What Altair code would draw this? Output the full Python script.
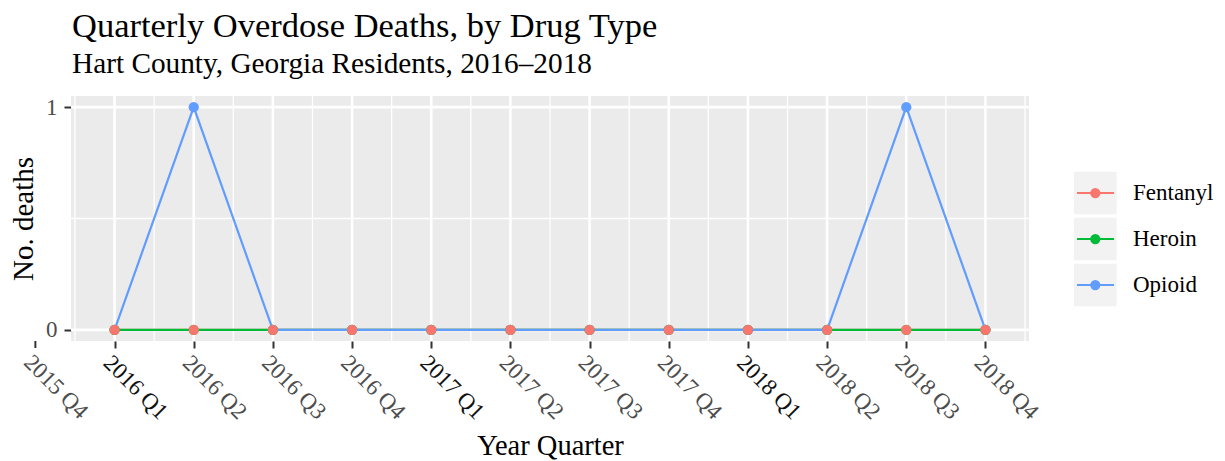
import json
import altair as alt
import pandas as pd

# ---- data ----
drugs = ["Fentanyl", "Heroin", "Opioid"]
colors = ["#F8766D", "#00BA38", "#619CFF"]
quarter_index = [1, 2, 3, 4, 5, 6, 7, 8, 9, 10, 11, 12]   # 2016 Q1 .. 2018 Q4
fentanyl = [0, 0, 0, 0, 0, 0, 0, 0, 0, 0, 0, 0]
heroin = [0, 0, 0, 0, 0, 0, 0, 0, 0, 0, 0, 0]
opioid = [0, 1, 0, 0, 0, 0, 0, 0, 0, 0, 1, 0]
tick_values = [0, 1, 2, 3, 4, 5, 6, 7, 8, 9, 10, 11, 12]
tick_labels = ["2015 Q4", "2016 Q1", "2016 Q2", "2016 Q3", "2016 Q4",
               "2017 Q1", "2017 Q2", "2017 Q3", "2017 Q4",
               "2018 Q1", "2018 Q2", "2018 Q3", "2018 Q4"]
y_ticks = [0, 1]
y_minor = [0.5]

rows = []
for d, vals in zip(drugs, [fentanyl, heroin, opioid]):
    for q, v in zip(quarter_index, vals):
        rows.append({"drug": d, "q": q, "deaths": v})
df = pd.DataFrame(rows)

major_x = pd.DataFrame({"v": quarter_index})
minor_x = pd.DataFrame({"v": [t + 0.5 for t in tick_values]})
major_y = pd.DataFrame({"v": y_ticks})
minor_y = pd.DataFrame({"v": y_minor})
first_tick = pd.DataFrame({"v": [tick_values[0]], "label": [tick_labels[0]]})
legend_df = pd.DataFrame({"drug": drugs, "k": list(range(len(drugs)))})

FONT = "Liberation Serif"
W, H = 958, 245
TICK_FS = 23
LABEL_GREY = "#4D4D4D"

xscale = alt.Scale(domain=[0.45, 12.55], nice=False, zero=False)
yscale = alt.Scale(domain=[-0.05, 1.05], nice=False, zero=False)
cscale = alt.Scale(domain=drugs, range=colors)

x_axis = alt.Axis(
    values=tick_values,
    labelExpr=json.dumps(tick_labels) + "[datum.value]",
    labelAngle=45, labelAlign="left", labelBaseline="top",
    labelFont=FONT, labelFontSize=TICK_FS,
    labelColor={"condition": {"test": "datum.value % 4 == 1", "value": "#111111"},
                "value": LABEL_GREY},
    labelOverlap=False, labelFlush=False, labelBound=False, labelPadding=3,
    tickColor="#333333", tickWidth=2, tickSize=7,
    domain=False, grid=False,
    title="Year Quarter", titleFont=FONT, titleFontSize=28.5,
    titleFontWeight="normal", titleColor="black", titlePadding=8,
)
y_axis = alt.Axis(
    values=y_ticks, format="d",
    labelFont=FONT, labelFontSize=TICK_FS, labelColor=LABEL_GREY, labelPadding=7,
    tickColor="#333333", tickWidth=2, tickSize=7,
    domain=False, grid=False,
    title="No. deaths", titleFont=FONT, titleFontSize=29,
    titleFontWeight="normal", titleColor="black", titlePadding=7,
)


def X(field):
    return alt.X(field, type="quantitative", scale=xscale, axis=x_axis)


def Y(field):
    return alt.Y(field, type="quantitative", scale=yscale, axis=y_axis)


grid_minor_x = alt.Chart(minor_x).mark_rule(color="white", strokeWidth=1.3, clip=True).encode(x=X("v"))
grid_minor_y = alt.Chart(minor_y).mark_rule(color="white", strokeWidth=1.3, clip=True).encode(y=Y("v"))
grid_major_x = alt.Chart(major_x).mark_rule(color="white", strokeWidth=2.6, clip=True).encode(x=X("v"))
grid_major_y = alt.Chart(major_y).mark_rule(color="white", strokeWidth=2.6, clip=True).encode(y=Y("v"))

# the first break (2015 Q4) lies left of the panel: ggplot still draws it
first_tick_mark = alt.Chart(first_tick).mark_rule(color="#333333", strokeWidth=2).encode(
    x=X("v"), y=alt.value(H), y2=alt.value(H + 7))
first_tick_label = alt.Chart(first_tick).mark_text(
    angle=45, align="left", baseline="top", font=FONT, fontSize=TICK_FS, color=LABEL_GREY
).encode(x=X("v"), y=alt.value(H + 10), text="label:N")

layers = [grid_minor_x, grid_minor_y, grid_major_x, grid_major_y,
          first_tick_mark, first_tick_label]
for d in drugs:
    layers.append(
        alt.Chart(df).transform_filter(alt.datum.drug == d)
        .mark_line(strokeWidth=2.2)
        .encode(x=X("q"), y=Y("deaths"),
                color=alt.Color("drug:N", scale=cscale, legend=None))
    )
for d in reversed(drugs):
    layers.append(
        alt.Chart(df).transform_filter(alt.datum.drug == d)
        .mark_circle(size=105, opacity=1)
        .encode(x=X("q"), y=Y("deaths"),
                color=alt.Color("drug:N", scale=cscale, legend=None))
    )
main = alt.layer(*layers)

# ---- hand-built legend (ggplot style keys) ----
ly = alt.Y("k:Q", scale=alt.Scale(domain=[-2.1087, 3.217], reverse=True, nice=False, zero=False), axis=None)
leg_key = alt.Chart(legend_df).mark_square(size=1815, color="#F2F2F2", opacity=1).encode(
    x=alt.value(1024.3), y=ly)
leg_line = alt.Chart(legend_df).mark_rule(strokeWidth=2.2).encode(
    x=alt.value(1006), x2=alt.value(1043), y=ly,
    color=alt.Color("drug:N", scale=cscale, legend=None))
leg_pt = alt.Chart(legend_df).mark_circle(size=105, opacity=1).encode(
    x=alt.value(1024.3), y=ly,
    color=alt.Color("drug:N", scale=cscale, legend=None))
leg_txt = alt.Chart(legend_df).mark_text(
    align="left", baseline="middle", font=FONT, fontSize=23, color="black"
).encode(x=alt.value(1062), y=ly, text="drug:N")
legend = alt.layer(leg_key, leg_line, leg_pt, leg_txt)

chart = alt.layer(main, legend).resolve_scale(y="independent").properties(
    width=W, height=H,
    background="white",
    autosize=alt.AutoSizeParams(type="none"),
    padding={"left": 63, "top": 88, "right": 188, "bottom": 120},
    title=alt.TitleParams(
        text="Quarterly Overdose Deaths, by Drug Type",
        subtitle="Hart County, Georgia Residents, 2016–2018",
        anchor="start", frame="group", dx=1,
        font=FONT, fontSize=34.5, fontWeight="normal", color="black",
        subtitleFont=FONT, subtitleFontSize=29.3, subtitleColor="black",
        subtitlePadding=5, offset=16,
    ),
).configure_view(fill="#EBEBEB", strokeWidth=0)

chart.save("out.html", embed_options={"renderer": "svg", "actions": False})
